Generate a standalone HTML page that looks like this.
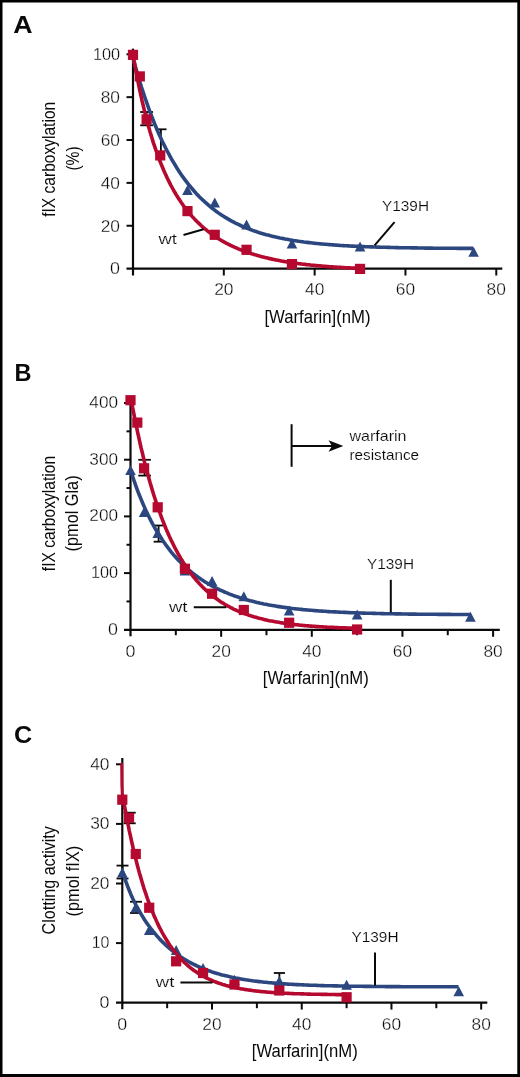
<!DOCTYPE html>
<html><head><meta charset="utf-8"><title>Figure</title>
<style>html,body{margin:0;padding:0;background:#fff}svg{display:block;will-change:transform;transform:translateZ(0)}text{font-family:"Liberation Sans",sans-serif}</style>
</head><body>
<svg width="520" height="1077" viewBox="0 0 520 1077">
<rect x="0" y="0" width="520" height="1077" fill="#fff"/>
<text x="13.30" y="33.00" font-size="23.5" text-anchor="start" fill="#0a0a0a" font-family="Liberation Sans, sans-serif" textLength="19.30" lengthAdjust="spacingAndGlyphs" font-weight="bold">A</text>
<text x="55.40" y="216.80" font-size="19" text-anchor="start" fill="#0a0a0a" font-family="Liberation Sans, sans-serif" textLength="115.00" lengthAdjust="spacingAndGlyphs" transform="rotate(-90 55.40 216.80)">fIX carboxylation</text>
<text x="79.20" y="170.60" font-size="19" text-anchor="start" fill="#0a0a0a" font-family="Liberation Sans, sans-serif" textLength="24.30" lengthAdjust="spacingAndGlyphs" transform="rotate(-90 79.20 170.60)">(%)</text>
<text x="264.40" y="322.60" font-size="19" text-anchor="start" fill="#0a0a0a" font-family="Liberation Sans, sans-serif" textLength="106.20" lengthAdjust="spacingAndGlyphs">[Warfarin](nM)</text>
<text x="110.05" y="274.40" font-size="16.5" text-anchor="start" fill="#0a0a0a" font-family="Liberation Sans, sans-serif" textLength="9.95" lengthAdjust="spacingAndGlyphs" stroke="#fff" stroke-width="0.3">0</text>
<text x="100.70" y="231.54" font-size="16.5" text-anchor="start" fill="#0a0a0a" font-family="Liberation Sans, sans-serif" textLength="19.30" lengthAdjust="spacingAndGlyphs" stroke="#fff" stroke-width="0.3">20</text>
<text x="100.70" y="188.68" font-size="16.5" text-anchor="start" fill="#0a0a0a" font-family="Liberation Sans, sans-serif" textLength="19.30" lengthAdjust="spacingAndGlyphs" stroke="#fff" stroke-width="0.3">40</text>
<text x="100.70" y="145.82" font-size="16.5" text-anchor="start" fill="#0a0a0a" font-family="Liberation Sans, sans-serif" textLength="19.30" lengthAdjust="spacingAndGlyphs" stroke="#fff" stroke-width="0.3">60</text>
<text x="100.70" y="102.96" font-size="16.5" text-anchor="start" fill="#0a0a0a" font-family="Liberation Sans, sans-serif" textLength="19.30" lengthAdjust="spacingAndGlyphs" stroke="#fff" stroke-width="0.3">80</text>
<text x="92.90" y="60.10" font-size="16.5" text-anchor="start" fill="#0a0a0a" font-family="Liberation Sans, sans-serif" textLength="27.10" lengthAdjust="spacingAndGlyphs" stroke="#fff" stroke-width="0.3">100</text>
<text x="214.17" y="295.40" font-size="16.5" text-anchor="start" fill="#0a0a0a" font-family="Liberation Sans, sans-serif" textLength="19.30" lengthAdjust="spacingAndGlyphs" stroke="#fff" stroke-width="0.3">20</text>
<text x="304.99" y="295.40" font-size="16.5" text-anchor="start" fill="#0a0a0a" font-family="Liberation Sans, sans-serif" textLength="19.30" lengthAdjust="spacingAndGlyphs" stroke="#fff" stroke-width="0.3">40</text>
<text x="395.81" y="295.40" font-size="16.5" text-anchor="start" fill="#0a0a0a" font-family="Liberation Sans, sans-serif" textLength="19.30" lengthAdjust="spacingAndGlyphs" stroke="#fff" stroke-width="0.3">60</text>
<text x="486.63" y="295.40" font-size="16.5" text-anchor="start" fill="#0a0a0a" font-family="Liberation Sans, sans-serif" textLength="19.30" lengthAdjust="spacingAndGlyphs" stroke="#fff" stroke-width="0.3">80</text>
<line x1="133.00" y1="48.60" x2="133.00" y2="275.50" stroke="#0a0a0a" stroke-width="2.2" stroke-linecap="butt"/>
<line x1="126.50" y1="268.60" x2="502.30" y2="268.60" stroke="#0a0a0a" stroke-width="2.2" stroke-linecap="butt"/>
<line x1="126.50" y1="225.74" x2="133.00" y2="225.74" stroke="#0a0a0a" stroke-width="2" stroke-linecap="butt"/>
<line x1="126.50" y1="182.88" x2="133.00" y2="182.88" stroke="#0a0a0a" stroke-width="2" stroke-linecap="butt"/>
<line x1="126.50" y1="140.02" x2="133.00" y2="140.02" stroke="#0a0a0a" stroke-width="2" stroke-linecap="butt"/>
<line x1="126.50" y1="97.16" x2="133.00" y2="97.16" stroke="#0a0a0a" stroke-width="2" stroke-linecap="butt"/>
<line x1="126.50" y1="54.30" x2="133.00" y2="54.30" stroke="#0a0a0a" stroke-width="2" stroke-linecap="butt"/>
<line x1="223.82" y1="268.60" x2="223.82" y2="275.50" stroke="#0a0a0a" stroke-width="2" stroke-linecap="butt"/>
<line x1="314.64" y1="268.60" x2="314.64" y2="275.50" stroke="#0a0a0a" stroke-width="2" stroke-linecap="butt"/>
<line x1="405.46" y1="268.60" x2="405.46" y2="275.50" stroke="#0a0a0a" stroke-width="2" stroke-linecap="butt"/>
<line x1="496.28" y1="268.60" x2="496.28" y2="275.50" stroke="#0a0a0a" stroke-width="2" stroke-linecap="butt"/>
<line x1="146.60" y1="112.00" x2="146.60" y2="125.30" stroke="#0a0a0a" stroke-width="1.8" stroke-linecap="butt"/>
<line x1="140.20" y1="112.00" x2="153.00" y2="112.00" stroke="#0a0a0a" stroke-width="1.8" stroke-linecap="butt"/>
<line x1="140.20" y1="125.30" x2="153.00" y2="125.30" stroke="#0a0a0a" stroke-width="1.8" stroke-linecap="butt"/>
<line x1="160.90" y1="129.30" x2="160.90" y2="152.00" stroke="#0a0a0a" stroke-width="1.8" stroke-linecap="butt"/>
<line x1="155.30" y1="129.30" x2="166.50" y2="129.30" stroke="#0a0a0a" stroke-width="1.8" stroke-linecap="butt"/>
<path d="M133.0 57.9L134.7 64.2L136.4 70.2L138.1 76.1L139.8 81.8L141.5 87.3L143.3 92.6L145.0 97.7L146.7 102.7L148.4 107.5L150.1 112.2L151.8 116.7L153.5 121.0L155.2 125.2L156.9 129.3L158.6 133.2L160.3 137.0L162.0 140.7L163.8 144.2L165.5 147.7L167.2 151.0L168.9 154.2L170.6 157.3L172.3 160.3L174.0 163.2L175.7 166.0L177.4 168.8L179.1 171.4L180.8 173.9L182.5 176.4L184.3 178.8L186.0 181.1L187.7 183.3L189.4 185.5L191.1 187.5L192.8 189.5L194.5 191.5L196.2 193.4L197.9 195.2L199.6 197.0L201.3 198.7L203.1 200.3L204.8 201.9L206.5 203.4L208.2 204.9L209.9 206.4L211.6 207.8L213.3 209.1L215.0 210.4L216.7 211.7L218.4 212.9L220.1 214.1L221.8 215.2L223.6 216.3L225.3 217.4L227.0 218.4L228.7 219.4L230.4 220.4L232.1 221.3L233.8 222.2L235.5 223.1L237.2 223.9L238.9 224.7L240.6 225.5L242.3 226.3L244.1 227.0L245.8 227.7L247.5 228.4L249.2 229.1L250.9 229.7L252.6 230.4L254.3 231.0L256.0 231.5L257.7 232.1L259.4 232.7L261.1 233.2L262.8 233.7L264.6 234.2L266.3 234.7L268.0 235.1L269.7 235.6L271.4 236.0L273.1 236.4L274.8 236.8L276.5 237.2L278.2 237.6L279.9 238.0L281.6 238.3L283.4 238.6L285.1 239.0L286.8 239.3L288.5 239.6L290.2 239.9L291.9 240.2L293.6 240.5L295.3 240.7L297.0 241.0L298.7 241.3L300.4 241.5L302.1 241.7L303.9 242.0L305.6 242.2L307.3 242.4L309.0 242.6L310.7 242.8L312.4 243.0L314.1 243.2L315.8 243.4L317.5 243.5L319.2 243.7L320.9 243.9L322.6 244.0L324.4 244.2L326.1 244.3L327.8 244.5L329.5 244.6L331.2 244.8L332.9 244.9L334.6 245.0L336.3 245.1L338.0 245.2L339.7 245.4L341.4 245.5L343.2 245.6L344.9 245.7L346.6 245.8L348.3 245.9L350.0 246.0L351.7 246.1L353.4 246.1L355.1 246.2L356.8 246.3L358.5 246.4L360.2 246.5L361.9 246.5L363.7 246.6L365.4 246.7L367.1 246.7L368.8 246.8L370.5 246.9L372.2 246.9L373.9 247.0L375.6 247.0L377.3 247.1L379.0 247.1L380.7 247.2L382.4 247.2L384.2 247.3L385.9 247.3L387.6 247.4L389.3 247.4L391.0 247.5L392.7 247.5L394.4 247.5L396.1 247.6L397.8 247.6L399.5 247.7L401.2 247.7L402.9 247.7L404.7 247.8L406.4 247.8L408.1 247.8L409.8 247.8L411.5 247.9L413.2 247.9L414.9 247.9L416.6 247.9L418.3 248.0L420.0 248.0L421.7 248.0L423.5 248.0L425.2 248.1L426.9 248.1L428.6 248.1L430.3 248.1L432.0 248.1L433.7 248.2L435.4 248.2L437.1 248.2L438.8 248.2L440.5 248.2L442.2 248.2L444.0 248.3L445.7 248.3L447.4 248.3L449.1 248.3L450.8 248.3L452.5 248.3L454.2 248.3L455.9 248.3L457.6 248.4L459.3 248.4L461.0 248.4L462.7 248.4L464.5 248.4L466.2 248.4L467.9 248.4L469.6 248.4L471.3 248.4L473.0 248.4" fill="none" stroke="#2C4780" stroke-width="3.6" stroke-linejoin="round" stroke-linecap="butt"/>
<path d="M182.19 195.00L192.79 195.00L187.49 185.00Z" fill="#2C4780"/>
<path d="M209.44 207.50L220.04 207.50L214.74 197.50Z" fill="#2C4780"/>
<path d="M241.22 229.50L251.83 229.50L246.53 219.50Z" fill="#2C4780"/>
<path d="M286.63 248.40L297.24 248.40L291.94 238.40Z" fill="#2C4780"/>
<path d="M354.75 251.60L365.35 251.60L360.05 241.60Z" fill="#2C4780"/>
<path d="M468.28 256.80L478.88 256.80L473.58 246.80Z" fill="#2C4780"/>
<path d="M133.0 54.2L134.1 60.9L135.3 67.3L136.4 73.4L137.6 79.4L138.7 85.1L139.8 90.6L141.0 95.9L142.1 101.0L143.3 105.9L144.4 110.6L145.5 115.2L146.7 119.6L147.8 123.9L149.0 128.0L150.1 132.0L151.3 135.8L152.4 139.5L153.5 143.1L154.7 146.5L155.8 149.9L157.0 153.1L158.1 156.3L159.2 159.3L160.4 162.2L161.5 165.1L162.7 167.8L163.8 170.5L164.9 173.0L166.1 175.5L167.2 178.0L168.4 180.3L169.5 182.6L170.6 184.8L171.8 187.0L172.9 189.0L174.1 191.1L175.2 193.0L176.3 194.9L177.5 196.8L178.6 198.6L179.8 200.3L180.9 202.0L182.1 203.7L183.2 205.3L184.3 206.8L185.5 208.3L186.6 209.8L187.8 211.3L188.9 212.7L190.0 214.0L191.2 215.3L192.3 216.6L193.5 217.9L194.6 219.1L195.7 220.3L196.9 221.4L198.0 222.6L199.2 223.7L200.3 224.7L201.4 225.8L202.6 226.8L203.7 227.8L204.9 228.8L206.0 229.7L207.1 230.6L208.3 231.5L209.4 232.4L210.6 233.3L211.7 234.1L212.8 234.9L214.0 235.7L215.1 236.5L216.3 237.2L217.4 238.0L218.6 238.7L219.7 239.4L220.8 240.1L222.0 240.8L223.1 241.4L224.3 242.1L225.4 242.7L226.5 243.3L227.7 243.9L228.8 244.5L230.0 245.0L231.1 245.6L232.2 246.1L233.4 246.7L234.5 247.2L235.7 247.7L236.8 248.2L237.9 248.7L239.1 249.2L240.2 249.6L241.4 250.1L242.5 250.5L243.6 250.9L244.8 251.4L245.9 251.8L247.1 252.2L248.2 252.6L249.4 253.0L250.5 253.3L251.6 253.7L252.8 254.1L253.9 254.4L255.1 254.8L256.2 255.1L257.3 255.4L258.5 255.8L259.6 256.1L260.8 256.4L261.9 256.7L263.0 257.0L264.2 257.3L265.3 257.6L266.5 257.8L267.6 258.1L268.7 258.4L269.9 258.6L271.0 258.9L272.2 259.1L273.3 259.4L274.4 259.6L275.6 259.9L276.7 260.1L277.9 260.3L279.0 260.5L280.2 260.7L281.3 261.0L282.4 261.2L283.6 261.4L284.7 261.6L285.9 261.7L287.0 261.9L288.1 262.1L289.3 262.3L290.4 262.5L291.6 262.6L292.7 262.8L293.8 263.0L295.0 263.1L296.1 263.3L297.3 263.4L298.4 263.6L299.5 263.7L300.7 263.9L301.8 264.0L303.0 264.2L304.1 264.3L305.2 264.4L306.4 264.6L307.5 264.7L308.7 264.8L309.8 264.9L310.9 265.1L312.1 265.2L313.2 265.3L314.4 265.4L315.5 265.5L316.7 265.6L317.8 265.7L318.9 265.8L320.1 265.9L321.2 266.0L322.4 266.1L323.5 266.2L324.6 266.3L325.8 266.4L326.9 266.5L328.1 266.6L329.2 266.7L330.3 266.7L331.5 266.8L332.6 266.9L333.8 267.0L334.9 267.1L336.0 267.1L337.2 267.2L338.3 267.3L339.5 267.3L340.6 267.4L341.7 267.5L342.9 267.6L344.0 267.6L345.2 267.7L346.3 267.7L347.5 267.8L348.6 267.9L349.7 267.9L350.9 268.0L352.0 268.0L353.2 268.1L354.3 268.1L355.4 268.2L356.6 268.2L357.7 268.3L358.9 268.3L360.0 268.4" fill="none" stroke="#B5092F" stroke-width="3.6" stroke-linejoin="round" stroke-linecap="butt"/>
<rect x="127.90" y="49.75" width="10.2" height="10.2" fill="#B5092F"/>
<rect x="134.71" y="71.30" width="10.2" height="10.2" fill="#B5092F"/>
<rect x="141.52" y="114.30" width="10.2" height="10.2" fill="#B5092F"/>
<rect x="155.15" y="150.30" width="10.2" height="10.2" fill="#B5092F"/>
<rect x="182.39" y="206.00" width="10.2" height="10.2" fill="#B5092F"/>
<rect x="209.64" y="229.70" width="10.2" height="10.2" fill="#B5092F"/>
<rect x="241.43" y="244.70" width="10.2" height="10.2" fill="#B5092F"/>
<rect x="286.83" y="259.00" width="10.2" height="10.2" fill="#B5092F"/>
<rect x="354.95" y="263.80" width="10.2" height="10.2" fill="#B5092F"/>
<text x="158.50" y="244.20" font-size="14.5" text-anchor="start" fill="#0a0a0a" font-family="Liberation Sans, sans-serif" textLength="18.50" lengthAdjust="spacingAndGlyphs" stroke="#fff" stroke-width="0.15">wt</text>
<line x1="183.50" y1="235.00" x2="203.50" y2="229.20" stroke="#0a0a0a" stroke-width="2" stroke-linecap="butt"/>
<text x="382.00" y="210.60" font-size="14.8" text-anchor="start" fill="#0a0a0a" font-family="Liberation Sans, sans-serif" textLength="47.00" lengthAdjust="spacingAndGlyphs" stroke="#fff" stroke-width="0.15">Y139H</text>
<line x1="374.60" y1="245.40" x2="394.50" y2="222.20" stroke="#0a0a0a" stroke-width="2" stroke-linecap="butt"/>
<text x="14.50" y="380.50" font-size="23.5" text-anchor="start" fill="#0a0a0a" font-family="Liberation Sans, sans-serif" font-weight="bold">B</text>
<text x="54.80" y="571.20" font-size="19" text-anchor="start" fill="#0a0a0a" font-family="Liberation Sans, sans-serif" textLength="115.30" lengthAdjust="spacingAndGlyphs" transform="rotate(-90 54.80 571.20)">fIX carboxylation</text>
<text x="78.20" y="551.40" font-size="19" text-anchor="start" fill="#0a0a0a" font-family="Liberation Sans, sans-serif" textLength="76.00" lengthAdjust="spacingAndGlyphs" transform="rotate(-90 78.20 551.40)">(pmol Gla)</text>
<text x="262.80" y="684.20" font-size="19" text-anchor="start" fill="#0a0a0a" font-family="Liberation Sans, sans-serif" textLength="106.00" lengthAdjust="spacingAndGlyphs">[Warfarin](nM)</text>
<text x="108.05" y="634.80" font-size="16.5" text-anchor="start" fill="#0a0a0a" font-family="Liberation Sans, sans-serif" textLength="9.95" lengthAdjust="spacingAndGlyphs" stroke="#fff" stroke-width="0.3">0</text>
<text x="90.90" y="578.10" font-size="16.5" text-anchor="start" fill="#0a0a0a" font-family="Liberation Sans, sans-serif" textLength="27.10" lengthAdjust="spacingAndGlyphs" stroke="#fff" stroke-width="0.3">100</text>
<text x="89.35" y="521.40" font-size="16.5" text-anchor="start" fill="#0a0a0a" font-family="Liberation Sans, sans-serif" textLength="28.65" lengthAdjust="spacingAndGlyphs" stroke="#fff" stroke-width="0.3">200</text>
<text x="89.35" y="464.70" font-size="16.5" text-anchor="start" fill="#0a0a0a" font-family="Liberation Sans, sans-serif" textLength="28.65" lengthAdjust="spacingAndGlyphs" stroke="#fff" stroke-width="0.3">300</text>
<text x="89.35" y="408.00" font-size="16.5" text-anchor="start" fill="#0a0a0a" font-family="Liberation Sans, sans-serif" textLength="28.65" lengthAdjust="spacingAndGlyphs" stroke="#fff" stroke-width="0.3">400</text>
<text x="125.53" y="656.60" font-size="16.5" text-anchor="start" fill="#0a0a0a" font-family="Liberation Sans, sans-serif" textLength="9.95" lengthAdjust="spacingAndGlyphs" stroke="#fff" stroke-width="0.3">0</text>
<text x="211.50" y="656.60" font-size="16.5" text-anchor="start" fill="#0a0a0a" font-family="Liberation Sans, sans-serif" textLength="19.30" lengthAdjust="spacingAndGlyphs" stroke="#fff" stroke-width="0.3">20</text>
<text x="302.15" y="656.60" font-size="16.5" text-anchor="start" fill="#0a0a0a" font-family="Liberation Sans, sans-serif" textLength="19.30" lengthAdjust="spacingAndGlyphs" stroke="#fff" stroke-width="0.3">40</text>
<text x="392.80" y="656.60" font-size="16.5" text-anchor="start" fill="#0a0a0a" font-family="Liberation Sans, sans-serif" textLength="19.30" lengthAdjust="spacingAndGlyphs" stroke="#fff" stroke-width="0.3">60</text>
<text x="483.45" y="656.60" font-size="16.5" text-anchor="start" fill="#0a0a0a" font-family="Liberation Sans, sans-serif" textLength="19.30" lengthAdjust="spacingAndGlyphs" stroke="#fff" stroke-width="0.3">80</text>
<line x1="130.50" y1="399.00" x2="130.50" y2="636.30" stroke="#0a0a0a" stroke-width="2.2" stroke-linecap="butt"/>
<line x1="124.00" y1="629.80" x2="499.80" y2="629.80" stroke="#0a0a0a" stroke-width="2.2" stroke-linecap="butt"/>
<line x1="124.00" y1="573.10" x2="130.50" y2="573.10" stroke="#0a0a0a" stroke-width="2" stroke-linecap="butt"/>
<line x1="124.00" y1="516.40" x2="130.50" y2="516.40" stroke="#0a0a0a" stroke-width="2" stroke-linecap="butt"/>
<line x1="124.00" y1="459.70" x2="130.50" y2="459.70" stroke="#0a0a0a" stroke-width="2" stroke-linecap="butt"/>
<line x1="124.00" y1="403.00" x2="130.50" y2="403.00" stroke="#0a0a0a" stroke-width="2" stroke-linecap="butt"/>
<line x1="126.50" y1="601.45" x2="130.50" y2="601.45" stroke="#0a0a0a" stroke-width="2" stroke-linecap="butt"/>
<line x1="126.50" y1="544.75" x2="130.50" y2="544.75" stroke="#0a0a0a" stroke-width="2" stroke-linecap="butt"/>
<line x1="126.50" y1="488.05" x2="130.50" y2="488.05" stroke="#0a0a0a" stroke-width="2" stroke-linecap="butt"/>
<line x1="126.50" y1="431.35" x2="130.50" y2="431.35" stroke="#0a0a0a" stroke-width="2" stroke-linecap="butt"/>
<line x1="221.15" y1="629.80" x2="221.15" y2="636.80" stroke="#0a0a0a" stroke-width="2" stroke-linecap="butt"/>
<line x1="311.80" y1="629.80" x2="311.80" y2="636.80" stroke="#0a0a0a" stroke-width="2" stroke-linecap="butt"/>
<line x1="402.45" y1="629.80" x2="402.45" y2="636.80" stroke="#0a0a0a" stroke-width="2" stroke-linecap="butt"/>
<line x1="493.10" y1="629.80" x2="493.10" y2="636.80" stroke="#0a0a0a" stroke-width="2" stroke-linecap="butt"/>
<line x1="175.82" y1="629.80" x2="175.82" y2="635.20" stroke="#0a0a0a" stroke-width="2" stroke-linecap="butt"/>
<line x1="266.48" y1="629.80" x2="266.48" y2="635.20" stroke="#0a0a0a" stroke-width="2" stroke-linecap="butt"/>
<line x1="357.12" y1="629.80" x2="357.12" y2="635.20" stroke="#0a0a0a" stroke-width="2" stroke-linecap="butt"/>
<line x1="447.77" y1="629.80" x2="447.77" y2="635.20" stroke="#0a0a0a" stroke-width="2" stroke-linecap="butt"/>
<line x1="291.60" y1="424.20" x2="291.60" y2="466.80" stroke="#0a0a0a" stroke-width="2" stroke-linecap="butt"/>
<line x1="291.60" y1="446.00" x2="332.00" y2="446.00" stroke="#0a0a0a" stroke-width="2" stroke-linecap="butt"/>
<path d="M343.3 446L328.5 440.3L332 446L328.5 451.7Z" fill="#0a0a0a"/>
<text x="349.50" y="441.10" font-size="14.5" text-anchor="start" fill="#0a0a0a" font-family="Liberation Sans, sans-serif" textLength="57.00" lengthAdjust="spacingAndGlyphs" stroke="#fff" stroke-width="0.15">warfarin</text>
<text x="349.50" y="459.50" font-size="14.5" text-anchor="start" fill="#0a0a0a" font-family="Liberation Sans, sans-serif" textLength="69.50" lengthAdjust="spacingAndGlyphs" stroke="#fff" stroke-width="0.15">resistance</text>
<line x1="144.60" y1="459.80" x2="144.60" y2="475.60" stroke="#0a0a0a" stroke-width="1.8" stroke-linecap="butt"/>
<line x1="138.30" y1="459.80" x2="150.90" y2="459.80" stroke="#0a0a0a" stroke-width="1.8" stroke-linecap="butt"/>
<line x1="138.30" y1="475.60" x2="150.90" y2="475.60" stroke="#0a0a0a" stroke-width="1.8" stroke-linecap="butt"/>
<line x1="158.60" y1="525.50" x2="158.60" y2="541.70" stroke="#0a0a0a" stroke-width="1.8" stroke-linecap="butt"/>
<line x1="153.60" y1="525.50" x2="163.60" y2="525.50" stroke="#0a0a0a" stroke-width="1.8" stroke-linecap="butt"/>
<line x1="153.60" y1="541.70" x2="163.60" y2="541.70" stroke="#0a0a0a" stroke-width="1.8" stroke-linecap="butt"/>
<path d="M130.5 469.6L132.2 475.0L133.9 480.2L135.6 485.1L137.3 489.8L139.0 494.3L140.8 498.6L142.5 502.7L144.2 506.6L145.9 510.4L147.6 514.0L149.3 517.5L151.0 520.9L152.7 524.1L154.4 527.1L156.1 530.1L157.8 532.9L159.5 535.7L161.3 538.3L163.0 540.9L164.7 543.3L166.4 545.7L168.1 547.9L169.8 550.1L171.5 552.3L173.2 554.3L174.9 556.3L176.6 558.2L178.3 560.0L180.0 561.8L181.8 563.5L183.5 565.1L185.2 566.7L186.9 568.3L188.6 569.8L190.3 571.2L192.0 572.6L193.7 574.0L195.4 575.3L197.1 576.5L198.8 577.8L200.6 578.9L202.3 580.1L204.0 581.2L205.7 582.3L207.4 583.3L209.1 584.3L210.8 585.3L212.5 586.2L214.2 587.1L215.9 588.0L217.6 588.8L219.3 589.7L221.1 590.5L222.8 591.2L224.5 592.0L226.2 592.7L227.9 593.4L229.6 594.1L231.3 594.7L233.0 595.4L234.7 596.0L236.4 596.6L238.1 597.1L239.8 597.7L241.6 598.2L243.3 598.8L245.0 599.3L246.7 599.8L248.4 600.2L250.1 600.7L251.8 601.1L253.5 601.6L255.2 602.0L256.9 602.4L258.6 602.8L260.3 603.2L262.1 603.5L263.8 603.9L265.5 604.2L267.2 604.6L268.9 604.9L270.6 605.2L272.3 605.5L274.0 605.8L275.7 606.1L277.4 606.4L279.1 606.6L280.9 606.9L282.6 607.1L284.3 607.4L286.0 607.6L287.7 607.8L289.4 608.0L291.1 608.3L292.8 608.5L294.5 608.7L296.2 608.9L297.9 609.0L299.6 609.2L301.4 609.4L303.1 609.6L304.8 609.7L306.5 609.9L308.2 610.0L309.9 610.2L311.6 610.3L313.3 610.5L315.0 610.6L316.7 610.7L318.4 610.9L320.1 611.0L321.9 611.1L323.6 611.2L325.3 611.3L327.0 611.5L328.7 611.6L330.4 611.7L332.1 611.8L333.8 611.9L335.5 611.9L337.2 612.0L338.9 612.1L340.7 612.2L342.4 612.3L344.1 612.4L345.8 612.4L347.5 612.5L349.2 612.6L350.9 612.7L352.6 612.7L354.3 612.8L356.0 612.8L357.7 612.9L359.4 613.0L361.2 613.0L362.9 613.1L364.6 613.1L366.3 613.2L368.0 613.2L369.7 613.3L371.4 613.3L373.1 613.4L374.8 613.4L376.5 613.5L378.2 613.5L379.9 613.5L381.7 613.6L383.4 613.6L385.1 613.7L386.8 613.7L388.5 613.7L390.2 613.8L391.9 613.8L393.6 613.8L395.3 613.9L397.0 613.9L398.7 613.9L400.4 613.9L402.2 614.0L403.9 614.0L405.6 614.0L407.3 614.0L409.0 614.1L410.7 614.1L412.4 614.1L414.1 614.1L415.8 614.1L417.5 614.2L419.2 614.2L421.0 614.2L422.7 614.2L424.4 614.2L426.1 614.3L427.8 614.3L429.5 614.3L431.2 614.3L432.9 614.3L434.6 614.3L436.3 614.3L438.0 614.4L439.7 614.4L441.5 614.4L443.2 614.4L444.9 614.4L446.6 614.4L448.3 614.4L450.0 614.4L451.7 614.5L453.4 614.5L455.1 614.5L456.8 614.5L458.5 614.5L460.2 614.5L462.0 614.5L463.7 614.5L465.4 614.5L467.1 614.5L468.8 614.5L470.5 614.6" fill="none" stroke="#2C4780" stroke-width="3.6" stroke-linejoin="round" stroke-linecap="butt"/>
<path d="M125.20 475.00L135.80 475.00L130.50 465.00Z" fill="#2C4780"/>
<path d="M138.80 517.00L149.40 517.00L144.10 507.00Z" fill="#2C4780"/>
<path d="M152.39 538.00L163.00 538.00L157.69 528.00Z" fill="#2C4780"/>
<path d="M179.59 575.50L190.19 575.50L184.89 565.50Z" fill="#2C4780"/>
<path d="M206.78 585.90L217.38 585.90L212.08 575.90Z" fill="#2C4780"/>
<path d="M238.51 601.25L249.11 601.25L243.81 591.25Z" fill="#2C4780"/>
<path d="M283.84 615.60L294.44 615.60L289.14 605.60Z" fill="#2C4780"/>
<path d="M351.82 619.40L362.43 619.40L357.12 609.40Z" fill="#2C4780"/>
<path d="M465.14 621.80L475.74 621.80L470.44 611.80Z" fill="#2C4780"/>
<path d="M130.8 397.7L131.9 403.9L133.1 409.9L134.2 415.7L135.3 421.4L136.5 426.9L137.6 432.2L138.8 437.5L139.9 442.6L141.0 447.5L142.2 452.3L143.3 457.0L144.4 461.6L145.6 466.1L146.7 470.4L147.9 474.6L149.0 478.7L150.1 482.7L151.3 486.6L152.4 490.4L153.5 494.1L154.7 497.7L155.8 501.1L156.9 504.5L158.1 507.9L159.2 511.1L160.4 514.2L161.5 517.3L162.6 520.2L163.8 523.1L164.9 526.0L166.0 528.7L167.2 531.4L168.3 534.0L169.4 536.5L170.6 539.0L171.7 541.4L172.9 543.7L174.0 546.0L175.1 548.2L176.3 550.3L177.4 552.4L178.5 554.5L179.7 556.5L180.8 558.4L182.0 560.3L183.1 562.1L184.2 563.9L185.4 565.6L186.5 567.3L187.6 569.0L188.8 570.6L189.9 572.1L191.0 573.6L192.2 575.1L193.3 576.6L194.5 578.0L195.6 579.3L196.7 580.7L197.9 581.9L199.0 583.2L200.1 584.4L201.3 585.6L202.4 586.8L203.5 587.9L204.7 589.0L205.8 590.1L207.0 591.1L208.1 592.1L209.2 593.1L210.4 594.1L211.5 595.0L212.6 595.9L213.8 596.8L214.9 597.7L216.1 598.5L217.2 599.3L218.3 600.1L219.5 600.9L220.6 601.7L221.7 602.4L222.9 603.1L224.0 603.8L225.1 604.5L226.3 605.2L227.4 605.8L228.6 606.4L229.7 607.0L230.8 607.6L232.0 608.2L233.1 608.8L234.2 609.3L235.4 609.8L236.5 610.4L237.6 610.9L238.8 611.4L239.9 611.8L241.1 612.3L242.2 612.7L243.3 613.2L244.5 613.6L245.6 614.0L246.7 614.4L247.9 614.8L249.0 615.2L250.2 615.6L251.3 616.0L252.4 616.3L253.6 616.7L254.7 617.0L255.8 617.3L257.0 617.6L258.1 618.0L259.2 618.3L260.4 618.6L261.5 618.8L262.7 619.1L263.8 619.4L264.9 619.7L266.1 619.9L267.2 620.2L268.3 620.4L269.5 620.7L270.6 620.9L271.7 621.1L272.9 621.3L274.0 621.5L275.2 621.7L276.3 621.9L277.4 622.1L278.6 622.3L279.7 622.5L280.8 622.7L282.0 622.9L283.1 623.1L284.3 623.2L285.4 623.4L286.5 623.5L287.7 623.7L288.8 623.8L289.9 624.0L291.1 624.1L292.2 624.3L293.3 624.4L294.5 624.5L295.6 624.7L296.8 624.8L297.9 624.9L299.0 625.0L300.2 625.2L301.3 625.3L302.4 625.4L303.6 625.5L304.7 625.6L305.8 625.7L307.0 625.8L308.1 625.9L309.3 626.0L310.4 626.1L311.5 626.1L312.7 626.2L313.8 626.3L314.9 626.4L316.1 626.5L317.2 626.6L318.4 626.6L319.5 626.7L320.6 626.8L321.8 626.8L322.9 626.9L324.0 627.0L325.2 627.0L326.3 627.1L327.4 627.2L328.6 627.2L329.7 627.3L330.9 627.3L332.0 627.4L333.1 627.4L334.3 627.5L335.4 627.5L336.5 627.6L337.7 627.6L338.8 627.7L339.9 627.7L341.1 627.8L342.2 627.8L343.4 627.9L344.5 627.9L345.6 627.9L346.8 628.0L347.9 628.0L349.0 628.0L350.2 628.1L351.3 628.1L352.5 628.1L353.6 628.2L354.7 628.2L355.9 628.2L357.0 628.3" fill="none" stroke="#B5092F" stroke-width="3.6" stroke-linejoin="round" stroke-linecap="butt"/>
<rect x="125.40" y="395.10" width="10.2" height="10.2" fill="#B5092F"/>
<rect x="132.20" y="417.50" width="10.2" height="10.2" fill="#B5092F"/>
<rect x="139.00" y="463.20" width="10.2" height="10.2" fill="#B5092F"/>
<rect x="152.59" y="502.20" width="10.2" height="10.2" fill="#B5092F"/>
<rect x="179.79" y="563.65" width="10.2" height="10.2" fill="#B5092F"/>
<rect x="206.98" y="588.65" width="10.2" height="10.2" fill="#B5092F"/>
<rect x="238.71" y="604.90" width="10.2" height="10.2" fill="#B5092F"/>
<rect x="284.04" y="617.65" width="10.2" height="10.2" fill="#B5092F"/>
<rect x="352.02" y="624.40" width="10.2" height="10.2" fill="#B5092F"/>
<text x="169.00" y="612.40" font-size="14.5" text-anchor="start" fill="#0a0a0a" font-family="Liberation Sans, sans-serif" textLength="18.50" lengthAdjust="spacingAndGlyphs" stroke="#fff" stroke-width="0.15">wt</text>
<line x1="193.75" y1="607.30" x2="226.25" y2="607.30" stroke="#0a0a0a" stroke-width="2" stroke-linecap="butt"/>
<text x="367.00" y="568.60" font-size="14.8" text-anchor="start" fill="#0a0a0a" font-family="Liberation Sans, sans-serif" textLength="47.00" lengthAdjust="spacingAndGlyphs" stroke="#fff" stroke-width="0.15">Y139H</text>
<line x1="390.80" y1="579.80" x2="390.80" y2="612.50" stroke="#0a0a0a" stroke-width="2" stroke-linecap="butt"/>
<text x="14.00" y="743.00" font-size="23.5" text-anchor="start" fill="#0a0a0a" font-family="Liberation Sans, sans-serif" textLength="18.20" lengthAdjust="spacingAndGlyphs" font-weight="bold">C</text>
<text x="55.20" y="934.40" font-size="19" text-anchor="start" fill="#0a0a0a" font-family="Liberation Sans, sans-serif" textLength="108.30" lengthAdjust="spacingAndGlyphs" transform="rotate(-90 55.20 934.40)">Clotting activity</text>
<text x="79.40" y="916.40" font-size="19" text-anchor="start" fill="#0a0a0a" font-family="Liberation Sans, sans-serif" textLength="70.60" lengthAdjust="spacingAndGlyphs" transform="rotate(-90 79.40 916.40)">(pmol fIX)</text>
<text x="251.80" y="1056.60" font-size="19" text-anchor="start" fill="#0a0a0a" font-family="Liberation Sans, sans-serif" textLength="106.00" lengthAdjust="spacingAndGlyphs">[Warfarin](nM)</text>
<text x="99.55" y="1007.90" font-size="16.5" text-anchor="start" fill="#0a0a0a" font-family="Liberation Sans, sans-serif" textLength="9.95" lengthAdjust="spacingAndGlyphs" stroke="#fff" stroke-width="0.3">0</text>
<text x="91.75" y="948.30" font-size="16.5" text-anchor="start" fill="#0a0a0a" font-family="Liberation Sans, sans-serif" textLength="17.75" lengthAdjust="spacingAndGlyphs" stroke="#fff" stroke-width="0.3">10</text>
<text x="90.20" y="888.70" font-size="16.5" text-anchor="start" fill="#0a0a0a" font-family="Liberation Sans, sans-serif" textLength="19.30" lengthAdjust="spacingAndGlyphs" stroke="#fff" stroke-width="0.3">20</text>
<text x="90.20" y="829.10" font-size="16.5" text-anchor="start" fill="#0a0a0a" font-family="Liberation Sans, sans-serif" textLength="19.30" lengthAdjust="spacingAndGlyphs" stroke="#fff" stroke-width="0.3">30</text>
<text x="90.20" y="769.50" font-size="16.5" text-anchor="start" fill="#0a0a0a" font-family="Liberation Sans, sans-serif" textLength="19.30" lengthAdjust="spacingAndGlyphs" stroke="#fff" stroke-width="0.3">40</text>
<text x="117.33" y="1030.00" font-size="16.5" text-anchor="start" fill="#0a0a0a" font-family="Liberation Sans, sans-serif" textLength="9.95" lengthAdjust="spacingAndGlyphs" stroke="#fff" stroke-width="0.3">0</text>
<text x="202.37" y="1030.00" font-size="16.5" text-anchor="start" fill="#0a0a0a" font-family="Liberation Sans, sans-serif" textLength="19.30" lengthAdjust="spacingAndGlyphs" stroke="#fff" stroke-width="0.3">20</text>
<text x="292.09" y="1030.00" font-size="16.5" text-anchor="start" fill="#0a0a0a" font-family="Liberation Sans, sans-serif" textLength="19.30" lengthAdjust="spacingAndGlyphs" stroke="#fff" stroke-width="0.3">40</text>
<text x="381.81" y="1030.00" font-size="16.5" text-anchor="start" fill="#0a0a0a" font-family="Liberation Sans, sans-serif" textLength="19.30" lengthAdjust="spacingAndGlyphs" stroke="#fff" stroke-width="0.3">60</text>
<text x="471.53" y="1030.00" font-size="16.5" text-anchor="start" fill="#0a0a0a" font-family="Liberation Sans, sans-serif" textLength="19.30" lengthAdjust="spacingAndGlyphs" stroke="#fff" stroke-width="0.3">80</text>
<line x1="122.30" y1="758.00" x2="122.30" y2="1009.20" stroke="#0a0a0a" stroke-width="2.2" stroke-linecap="butt"/>
<line x1="116.00" y1="1002.70" x2="487.30" y2="1002.70" stroke="#0a0a0a" stroke-width="2.2" stroke-linecap="butt"/>
<line x1="116.00" y1="943.10" x2="122.30" y2="943.10" stroke="#0a0a0a" stroke-width="2" stroke-linecap="butt"/>
<line x1="116.00" y1="883.50" x2="122.30" y2="883.50" stroke="#0a0a0a" stroke-width="2" stroke-linecap="butt"/>
<line x1="116.00" y1="823.90" x2="122.30" y2="823.90" stroke="#0a0a0a" stroke-width="2" stroke-linecap="butt"/>
<line x1="116.00" y1="764.30" x2="122.30" y2="764.30" stroke="#0a0a0a" stroke-width="2" stroke-linecap="butt"/>
<line x1="212.02" y1="1002.70" x2="212.02" y2="1009.60" stroke="#0a0a0a" stroke-width="2" stroke-linecap="butt"/>
<line x1="301.74" y1="1002.70" x2="301.74" y2="1009.60" stroke="#0a0a0a" stroke-width="2" stroke-linecap="butt"/>
<line x1="391.46" y1="1002.70" x2="391.46" y2="1009.60" stroke="#0a0a0a" stroke-width="2" stroke-linecap="butt"/>
<line x1="481.18" y1="1002.70" x2="481.18" y2="1009.60" stroke="#0a0a0a" stroke-width="2" stroke-linecap="butt"/>
<line x1="167.16" y1="1002.70" x2="167.16" y2="1008.20" stroke="#0a0a0a" stroke-width="2" stroke-linecap="butt"/>
<line x1="256.88" y1="1002.70" x2="256.88" y2="1008.20" stroke="#0a0a0a" stroke-width="2" stroke-linecap="butt"/>
<line x1="346.60" y1="1002.70" x2="346.60" y2="1008.20" stroke="#0a0a0a" stroke-width="2" stroke-linecap="butt"/>
<line x1="436.32" y1="1002.70" x2="436.32" y2="1008.20" stroke="#0a0a0a" stroke-width="2" stroke-linecap="butt"/>
<line x1="129.70" y1="812.70" x2="129.70" y2="823.30" stroke="#0a0a0a" stroke-width="1.8" stroke-linecap="butt"/>
<line x1="123.70" y1="812.70" x2="135.70" y2="812.70" stroke="#0a0a0a" stroke-width="1.8" stroke-linecap="butt"/>
<line x1="123.70" y1="823.30" x2="135.70" y2="823.30" stroke="#0a0a0a" stroke-width="1.8" stroke-linecap="butt"/>
<line x1="122.50" y1="865.60" x2="122.50" y2="878.50" stroke="#0a0a0a" stroke-width="1.8" stroke-linecap="butt"/>
<line x1="116.50" y1="865.60" x2="128.50" y2="865.60" stroke="#0a0a0a" stroke-width="1.8" stroke-linecap="butt"/>
<line x1="116.50" y1="878.50" x2="128.50" y2="878.50" stroke="#0a0a0a" stroke-width="1.8" stroke-linecap="butt"/>
<line x1="136.00" y1="901.75" x2="136.00" y2="913.00" stroke="#0a0a0a" stroke-width="1.8" stroke-linecap="butt"/>
<line x1="130.00" y1="901.75" x2="142.00" y2="901.75" stroke="#0a0a0a" stroke-width="1.8" stroke-linecap="butt"/>
<line x1="130.00" y1="913.00" x2="142.00" y2="913.00" stroke="#0a0a0a" stroke-width="1.8" stroke-linecap="butt"/>
<line x1="279.40" y1="973.00" x2="279.40" y2="980.00" stroke="#0a0a0a" stroke-width="1.8" stroke-linecap="butt"/>
<line x1="273.80" y1="973.00" x2="285.00" y2="973.00" stroke="#0a0a0a" stroke-width="1.8" stroke-linecap="butt"/>
<path d="M122.5 871.2L124.2 876.6L125.9 881.6L127.6 886.2L129.3 890.5L130.9 894.4L132.6 898.2L134.3 901.7L136.0 905.1L137.7 908.2L139.4 911.3L141.1 914.1L142.8 916.9L144.4 919.5L146.1 922.1L147.8 924.5L149.5 926.8L151.2 929.0L152.9 931.2L154.6 933.2L156.3 935.2L158.0 937.1L159.6 938.9L161.3 940.7L163.0 942.4L164.7 944.0L166.4 945.6L168.1 947.1L169.8 948.6L171.5 950.0L173.2 951.4L174.8 952.7L176.5 953.9L178.2 955.1L179.9 956.3L181.6 957.4L183.3 958.5L185.0 959.5L186.7 960.5L188.3 961.5L190.0 962.4L191.7 963.3L193.4 964.2L195.1 965.0L196.8 965.8L198.5 966.6L200.2 967.4L201.9 968.1L203.5 968.8L205.2 969.4L206.9 970.1L208.6 970.7L210.3 971.3L212.0 971.9L213.7 972.4L215.4 972.9L217.1 973.4L218.7 973.9L220.4 974.4L222.1 974.9L223.8 975.3L225.5 975.7L227.2 976.1L228.9 976.5L230.6 976.9L232.2 977.3L233.9 977.6L235.6 978.0L237.3 978.3L239.0 978.6L240.7 978.9L242.4 979.2L244.1 979.5L245.8 979.8L247.4 980.0L249.1 980.3L250.8 980.5L252.5 980.8L254.2 981.0L255.9 981.2L257.6 981.4L259.3 981.6L261.0 981.8L262.6 982.0L264.3 982.2L266.0 982.3L267.7 982.5L269.4 982.7L271.1 982.8L272.8 983.0L274.5 983.1L276.1 983.3L277.8 983.4L279.5 983.5L281.2 983.6L282.9 983.8L284.6 983.9L286.3 984.0L288.0 984.1L289.7 984.2L291.3 984.3L293.0 984.4L294.7 984.5L296.4 984.6L298.1 984.6L299.8 984.7L301.5 984.8L303.2 984.9L304.9 985.0L306.5 985.0L308.2 985.1L309.9 985.2L311.6 985.2L313.3 985.3L315.0 985.3L316.7 985.4L318.4 985.5L320.0 985.5L321.7 985.6L323.4 985.6L325.1 985.7L326.8 985.7L328.5 985.7L330.2 985.8L331.9 985.8L333.6 985.9L335.2 985.9L336.9 985.9L338.6 986.0L340.3 986.0L342.0 986.0L343.7 986.1L345.4 986.1L347.1 986.1L348.8 986.2L350.4 986.2L352.1 986.2L353.8 986.2L355.5 986.3L357.2 986.3L358.9 986.3L360.6 986.3L362.3 986.3L363.9 986.4L365.6 986.4L367.3 986.4L369.0 986.4L370.7 986.4L372.4 986.5L374.1 986.5L375.8 986.5L377.5 986.5L379.1 986.5L380.8 986.5L382.5 986.5L384.2 986.5L385.9 986.6L387.6 986.6L389.3 986.6L391.0 986.6L392.7 986.6L394.3 986.6L396.0 986.6L397.7 986.6L399.4 986.6L401.1 986.7L402.8 986.7L404.5 986.7L406.2 986.7L407.8 986.7L409.5 986.7L411.2 986.7L412.9 986.7L414.6 986.7L416.3 986.7L418.0 986.7L419.7 986.7L421.4 986.7L423.0 986.7L424.7 986.7L426.4 986.8L428.1 986.8L429.8 986.8L431.5 986.8L433.2 986.8L434.9 986.8L436.6 986.8L438.2 986.8L439.9 986.8L441.6 986.8L443.3 986.8L445.0 986.8L446.7 986.8L448.4 986.8L450.1 986.8L451.7 986.8L453.4 986.8L455.1 986.8L456.8 986.8L458.5 986.8" fill="none" stroke="#2C4780" stroke-width="3.6" stroke-linejoin="round" stroke-linecap="butt"/>
<path d="M117.00 877.50L127.60 877.50L122.30 867.50Z" fill="#2C4780"/>
<path d="M130.46 912.50L141.06 912.50L135.76 902.50Z" fill="#2C4780"/>
<path d="M143.92 935.00L154.52 935.00L149.22 925.00Z" fill="#2C4780"/>
<path d="M170.83 955.00L181.43 955.00L176.13 945.00Z" fill="#2C4780"/>
<path d="M197.75 973.00L208.35 973.00L203.05 963.00Z" fill="#2C4780"/>
<path d="M229.15 985.00L239.75 985.00L234.45 975.00Z" fill="#2C4780"/>
<path d="M274.01 986.00L284.61 986.00L279.31 976.00Z" fill="#2C4780"/>
<path d="M341.30 989.75L351.90 989.75L346.60 979.75Z" fill="#2C4780"/>
<path d="M453.45 996.20L464.05 996.20L458.75 986.20Z" fill="#2C4780"/>
<path d="M122.6 794.8L123.7 801.3L124.8 807.6L126.0 813.7L127.1 819.5L128.2 825.2L129.3 830.8L130.5 836.1L131.6 841.3L132.7 846.2L133.8 851.1L134.9 855.8L136.1 860.3L137.2 864.7L138.3 868.9L139.4 873.0L140.6 876.9L141.7 880.8L142.8 884.5L143.9 888.1L145.1 891.6L146.2 894.9L147.3 898.2L148.4 901.3L149.5 904.4L150.7 907.3L151.8 910.1L152.9 912.9L154.0 915.6L155.2 918.1L156.3 920.6L157.4 923.1L158.5 925.4L159.6 927.7L160.8 929.8L161.9 932.0L163.0 934.0L164.1 936.0L165.3 937.9L166.4 939.7L167.5 941.5L168.6 943.3L169.7 945.0L170.9 946.6L172.0 948.2L173.1 949.7L174.2 951.1L175.4 952.6L176.5 953.9L177.6 955.3L178.7 956.6L179.9 957.8L181.0 959.0L182.1 960.2L183.2 961.3L184.3 962.4L185.5 963.5L186.6 964.5L187.7 965.5L188.8 966.4L190.0 967.4L191.1 968.3L192.2 969.1L193.3 970.0L194.4 970.8L195.6 971.6L196.7 972.3L197.8 973.1L198.9 973.8L200.1 974.4L201.2 975.1L202.3 975.8L203.4 976.4L204.6 977.0L205.7 977.6L206.8 978.1L207.9 978.7L209.0 979.2L210.2 979.7L211.3 980.2L212.4 980.7L213.5 981.2L214.7 981.6L215.8 982.0L216.9 982.5L218.0 982.9L219.1 983.3L220.3 983.6L221.4 984.0L222.5 984.4L223.6 984.7L224.8 985.0L225.9 985.4L227.0 985.7L228.1 986.0L229.2 986.3L230.4 986.5L231.5 986.8L232.6 987.1L233.7 987.3L234.9 987.6L236.0 987.8L237.1 988.0L238.2 988.3L239.4 988.5L240.5 988.7L241.6 988.9L242.7 989.1L243.8 989.3L245.0 989.5L246.1 989.6L247.2 989.8L248.3 990.0L249.5 990.1L250.6 990.3L251.7 990.4L252.8 990.6L253.9 990.7L255.1 990.9L256.2 991.0L257.3 991.1L258.4 991.3L259.6 991.4L260.7 991.5L261.8 991.6L262.9 991.7L264.0 991.8L265.2 991.9L266.3 992.0L267.4 992.1L268.5 992.2L269.7 992.3L270.8 992.4L271.9 992.5L273.0 992.5L274.2 992.6L275.3 992.7L276.4 992.8L277.5 992.8L278.6 992.9L279.8 993.0L280.9 993.0L282.0 993.1L283.1 993.2L284.3 993.2L285.4 993.3L286.5 993.3L287.6 993.4L288.7 993.4L289.9 993.5L291.0 993.5L292.1 993.6L293.2 993.6L294.4 993.7L295.5 993.7L296.6 993.7L297.7 993.8L298.9 993.8L300.0 993.8L301.1 993.9L302.2 993.9L303.3 993.9L304.5 994.0L305.6 994.0L306.7 994.0L307.8 994.1L309.0 994.1L310.1 994.1L311.2 994.2L312.3 994.2L313.4 994.2L314.6 994.2L315.7 994.2L316.8 994.3L317.9 994.3L319.1 994.3L320.2 994.3L321.3 994.4L322.4 994.4L323.5 994.4L324.7 994.4L325.8 994.4L326.9 994.4L328.0 994.5L329.2 994.5L330.3 994.5L331.4 994.5L332.5 994.5L333.7 994.5L334.8 994.5L335.9 994.6L337.0 994.6L338.1 994.6L339.3 994.6L340.4 994.6L341.5 994.6L342.6 994.6L343.8 994.6L344.9 994.6L346.0 994.6" fill="none" stroke="#B5092F" stroke-width="3.6" stroke-linejoin="round" stroke-linecap="butt"/>
<path d="M121.7 763L121.9 785L122.6 800.5" fill="none" stroke="#B5092F" stroke-width="3"/>
<rect x="117.20" y="794.60" width="10.2" height="10.2" fill="#B5092F"/>
<rect x="123.93" y="812.80" width="10.2" height="10.2" fill="#B5092F"/>
<rect x="130.66" y="848.90" width="10.2" height="10.2" fill="#B5092F"/>
<rect x="144.12" y="902.65" width="10.2" height="10.2" fill="#B5092F"/>
<rect x="171.03" y="956.20" width="10.2" height="10.2" fill="#B5092F"/>
<rect x="197.95" y="967.90" width="10.2" height="10.2" fill="#B5092F"/>
<rect x="229.35" y="979.40" width="10.2" height="10.2" fill="#B5092F"/>
<rect x="274.21" y="985.40" width="10.2" height="10.2" fill="#B5092F"/>
<rect x="341.50" y="992.15" width="10.2" height="10.2" fill="#B5092F"/>
<text x="155.80" y="987.10" font-size="14.5" text-anchor="start" fill="#0a0a0a" font-family="Liberation Sans, sans-serif" textLength="18.50" lengthAdjust="spacingAndGlyphs" stroke="#fff" stroke-width="0.15">wt</text>
<line x1="180.40" y1="982.40" x2="212.50" y2="982.40" stroke="#0a0a0a" stroke-width="2" stroke-linecap="butt"/>
<text x="351.50" y="942.00" font-size="14.8" text-anchor="start" fill="#0a0a0a" font-family="Liberation Sans, sans-serif" textLength="47.00" lengthAdjust="spacingAndGlyphs" stroke="#fff" stroke-width="0.15">Y139H</text>
<line x1="375.00" y1="952.50" x2="375.00" y2="985.50" stroke="#0a0a0a" stroke-width="2" stroke-linecap="butt"/>
<path d="M0 0H520V1077H0Z M2.5 2.5V1074.1H517.3V2.5Z" fill="#000" fill-rule="evenodd"/>
</svg>
</body></html>
